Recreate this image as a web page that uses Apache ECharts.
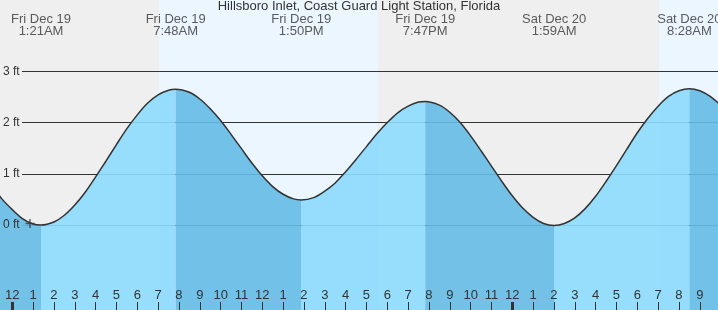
<!DOCTYPE html>
<html><head><meta charset="utf-8">
<script src="https://cdn.jsdelivr.net/npm/echarts@6/dist/echarts.min.js"></script>
<style>html,body{margin:0;padding:0;background:#efefef}#c{width:718px;height:310px}</style>
</head><body><div id="c"></div>
<script>
const chartTitle = 'Hillsboro Inlet, Coast Guard Light Station, Florida';
// hours counted from midnight, Fri Dec 19
const hours   = [-1, -0.5, 0, 0.5, 1, 1.38, 2, 2.5, 3, 3.5, 4, 4.5, 5, 5.5, 6, 6.5, 7, 7.5, 7.84,
                 8.5, 9, 9.5, 10, 10.5, 11, 11.5, 12, 12.5, 13, 13.5, 13.87,
                 14.5, 15, 15.5, 16, 16.5, 17, 17.5, 18, 18.5, 19, 19.5, 19.82,
                 20.5, 21, 21.5, 22, 22.5, 23, 23.5, 24, 24.5, 25, 25.5, 26.01,
                 26.5, 27, 27.5, 28, 28.5, 29, 29.5, 30, 30.5, 31, 31.5, 32, 32.5, 33, 33.5, 34];
const heights = [0.78, 0.51, 0.30, 0.12, 0.02, 0.00, 0.06, 0.19, 0.39, 0.64, 0.94, 1.25, 1.57, 1.88, 2.15, 2.38, 2.54, 2.63, 2.65,
                 2.59, 2.46, 2.27, 2.04, 1.77, 1.49, 1.21, 0.96, 0.75, 0.60, 0.51, 0.49,
                 0.54, 0.66, 0.82, 1.04, 1.28, 1.53, 1.78, 2.00, 2.19, 2.32, 2.40, 2.41,
                 2.34, 2.20, 2.00, 1.74, 1.45, 1.15, 0.85, 0.57, 0.33, 0.15, 0.03, -0.01,
                 0.03, 0.14, 0.32, 0.56, 0.85, 1.16, 1.48, 1.80, 2.08, 2.32, 2.51, 2.62, 2.66, 2.62, 2.51, 2.34];
const extremeHours   = [1.38, 7.84, 13.87, 19.82, 26.01, 32.5];
const extremeDays    = ['Fri Dec 19', 'Fri Dec 19', 'Fri Dec 19', 'Fri Dec 19', 'Sat Dec 20', 'Sat Dec 20'];
const extremeTimes   = ['1:21AM', '7:48AM', '1:50PM', '7:47PM', '1:59AM', '8:28AM'];
const fallingRanges  = [[-1, 1.38], [7.84, 13.87], [19.82, 26.01], [32.5, 34]];
const daylightRanges = [[7.04, 17.55], [31.04, 34]];
const tickHours  = [0,1,2,3,4,5,6,7,8,9,10,11,12,13,14,15,16,17,18,19,20,21,22,23,24,25,26,27,28,29,30,31,32,33];
const tickLabels = ['12','1','2','3','4','5','6','7','8','9','10','11','12','1','2','3','4','5','6','7','8','9','10','11','12','1','2','3','4','5','6','7','8','9'];
const midnightHours = [0, 24];
const yTicks = [0, 1, 2, 3];
const nowHour = 0.85, nowHeight = 0.03;

const X_MIN = -0.59, X_MAX = 33.874, Y_MIN = -1.659, Y_MAX = 4.392;
const LABEL_Y = 3.894, GRID_X0 = 0.466;
const FONT = 'Liberation Sans, Arial, sans-serif';

const isFalling = h => fallingRanges.some(r => h >= r[0] && h <= r[1]);
const isRising = h => !fallingRanges.some(r => h > r[0] && h < r[1]);
const all = hours.map((h, i) => [h, heights[i]]);
const fallData = hours.map((h, i) => [h, isFalling(h) ? heights[i] : '-']);
const riseData = hours.map((h, i) => [h, isRising(h) ? heights[i] : '-']);
const SMOOTH = 0.3;

const chart = echarts.init(document.getElementById('c'), null, {renderer: 'canvas'});
chart.setOption({
  animation: false,
  backgroundColor: '#efefef',
  title: {text: chartTitle, left: 'center', top: 0, padding: 0,
    textStyle: {fontFamily: FONT, fontSize: 13, fontWeight: 'normal', color: '#333'}},
  grid: {left: 0, right: 0, top: 0, bottom: 0, containLabel: false},
  xAxis: [{
    type: 'value', min: X_MIN, max: X_MAX, z: 10, position: 'bottom',
    axisLine: {show: false, onZero: false}, splitLine: {show: false},
    axisTick: {show: true, inside: true, length: 8, customValues: tickHours, lineStyle: {color: '#333', width: 1}},
    axisLabel: {show: true, inside: true, margin: 8, customValues: tickHours,
      formatter: v => tickLabels[tickHours.indexOf(v)],
      fontFamily: FONT, fontSize: 13, color: '#333'}
  }, {
    type: 'value', min: X_MIN, max: X_MAX, z: 11, position: 'bottom', offset: 0,
    axisLine: {show: false, onZero: false}, splitLine: {show: false}, axisLabel: {show: false},
    axisTick: {show: true, inside: true, length: 8, customValues: midnightHours, lineStyle: {color: '#333', width: 3}}
  }],
  yAxis: {
    type: 'value', min: Y_MIN, max: Y_MAX, z: 10,
    axisLine: {show: false, onZero: false}, axisTick: {show: false}, splitLine: {show: false},
    axisLabel: {show: true, inside: true, margin: 3, customValues: yTicks,
      formatter: v => v + ' ft', fontFamily: FONT, fontSize: 12, color: '#333'}
  },
  series: [
    { type: 'line', data: all, z: 0, symbol: 'none', silent: true,
      lineStyle: {opacity: 0},
      markArea: {z: 0, silent: true, itemStyle: {color: '#ebf6ff'},
        data: daylightRanges.map(r => [{coord: [r[0], Y_MIN]}, {coord: [r[1], Y_MAX]}])},
      markLine: {z: 1, silent: true, symbol: 'none', label: {show: false},
        lineStyle: {color: '#333', width: 1, type: 'solid'},
        data: yTicks.map(v => [{coord: [GRID_X0, v]}, {coord: [X_MAX, v]}])}
    },
    { type: 'line', data: riseData, z: 2, symbol: 'none', smooth: SMOOTH, connectNulls: false,
      lineStyle: {width: 0}, areaStyle: {color: '#8ddafd', opacity: 0.9, origin: 'start'} },
    { type: 'line', data: fallData, z: 2, symbol: 'none', smooth: SMOOTH, connectNulls: false,
      lineStyle: {width: 0}, areaStyle: {color: '#65bbe5', opacity: 0.9, origin: 'start'} },
    { type: 'line', data: all, z: 3, symbol: 'none', smooth: SMOOTH,
      lineStyle: {color: '#333', width: 1.5} },
    { type: 'scatter', z: 4, symbol: 'path://M3.4,0H4.6V3.4H8V4.6H4.6V8H3.4V4.6H0V3.4H3.4Z', symbolSize: 9,
      itemStyle: {color: '#333'}, data: [[nowHour, nowHeight]] },
    { type: 'scatter', z: 4, symbolSize: 1, itemStyle: {color: 'rgba(0,0,0,0)'},
      data: extremeHours.map((h, i) => ({value: [h, LABEL_Y], name: extremeDays[i] + '\n' + extremeTimes[i]})),
      label: {show: true, position: 'inside', formatter: p => p.name,
        fontFamily: FONT, fontSize: 13, lineHeight: 12, color: '#333'} }
  ]
});
</script></body></html>
